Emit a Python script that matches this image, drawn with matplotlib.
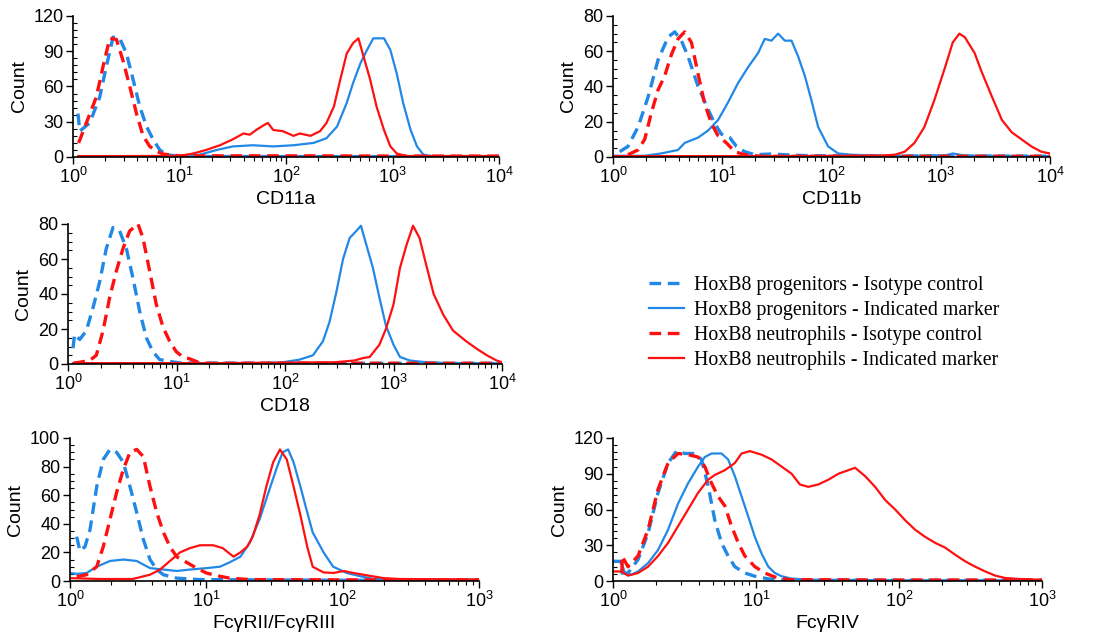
import numpy as np
import matplotlib
matplotlib.use("Agg")
import matplotlib.pyplot as plt
from matplotlib.ticker import AutoMinorLocator, LogLocator, NullFormatter

# ---------------- DATA (x given as log10 of fluorescence) ----------------
# Panel CD11a
cd11a_pi_x = [0.047, 0.063, 0.157, 0.251, 0.313, 0.376, 0.439, 0.502, 0.564, 0.627, 0.690, 0.752, 0.815, 0.878, 1.003, 2.0, 3.0, 4.0]
cd11a_pi_y = [37, 22, 29, 51, 77, 102, 101, 88, 66, 43, 26, 15, 6, 2, 0.5, 0.3, 0.3, 0.3]
cd11a_pm_x = [0.05, 0.5, 1.0, 1.19, 1.35, 1.50, 1.69, 1.88, 2.07, 2.26, 2.38, 2.48, 2.57, 2.63, 2.70, 2.76, 2.82, 2.92, 2.98, 3.04, 3.10, 3.17, 3.23, 3.29, 3.39, 4.0]
cd11a_pm_y = [0.3, 0.3, 0.5, 2, 6, 9, 10, 9, 10, 12, 16, 26, 46, 63, 80, 91, 101, 101, 91, 71, 46, 23, 9, 2, 0.5, 0.3]
cd11a_ni_x = [0.053, 0.125, 0.219, 0.282, 0.345, 0.408, 0.470, 0.533, 0.596, 0.658, 0.721, 0.784, 0.846, 1.0, 2.0, 3.0, 4.0]
cd11a_ni_y = [12, 29, 51, 77, 101, 100, 82, 60, 37, 18, 9, 5, 2.5, 1, 1, 0.8, 0.8]
cd11a_nm_x = [0.05, 0.5, 1.0, 1.13, 1.25, 1.38, 1.50, 1.60, 1.66, 1.72, 1.79, 1.83, 1.88, 1.97, 2.07, 2.13, 2.23, 2.32, 2.38, 2.45, 2.51, 2.57, 2.63, 2.68, 2.73, 2.79, 2.85, 2.92, 2.98, 3.04, 3.13, 4.0]
cd11a_nm_y = [0.8, 0.8, 1, 3, 6, 10, 15, 20, 19, 23, 27, 29, 23, 22, 18, 20, 18, 22, 29, 43, 66, 88, 97, 101, 85, 66, 43, 23, 9, 3, 0.8, 0.8]

# Panel CD11b
cd11b_pi_x = [0.061, 0.137, 0.229, 0.321, 0.412, 0.504, 0.565, 0.626, 0.687, 0.779, 0.870, 0.931, 0.992, 1.069, 1.130, 1.206, 1.298, 1.45, 1.66, 1.82, 3.0, 4.0]
cd11b_pi_y = [3, 6, 17, 34, 55, 68, 71, 66, 57, 40, 27, 19, 13, 11, 6, 3, 1.3, 1.7, 1, 0.7, 0.5, 0.5]
cd11b_pm_x = [0.0, 0.29, 0.44, 0.595, 0.656, 0.779, 0.870, 0.962, 1.053, 1.145, 1.237, 1.328, 1.389, 1.450, 1.511, 1.573, 1.634, 1.695, 1.756, 1.817, 1.878, 1.969, 2.061, 2.18, 2.43, 2.73, 3.05, 3.11, 3.22, 3.65, 4.0]
cd11b_pm_y = [0.7, 0.7, 2, 4, 8, 11, 15, 21, 31, 42, 51, 59, 67, 66, 70, 66, 66, 57, 46, 32, 17, 6, 2, 1.3, 0.7, 0.7, 1, 2, 0.8, 0.6, 0.5]
cd11b_ni_x = [0.137, 0.229, 0.29, 0.351, 0.412, 0.473, 0.534, 0.595, 0.656, 0.718, 0.779, 0.840, 0.901, 0.962, 1.038, 1.115, 1.206, 1.36, 2.5, 4.0]
cd11b_ni_y = [1.3, 4, 10, 25, 38, 46, 58, 67, 71, 65, 47, 30, 19, 12, 8, 3, 1.3, 0.4, 0.4, 0.4]
cd11b_nm_x = [0.0, 1.5, 2.43, 2.58, 2.67, 2.76, 2.85, 2.94, 3.04, 3.11, 3.17, 3.22, 3.31, 3.37, 3.47, 3.56, 3.65, 3.74, 3.83, 3.92, 4.0]
cd11b_nm_y = [0.5, 0.5, 0.7, 1.3, 3, 8, 17, 32, 51, 65, 70, 68, 59, 49, 34, 21, 14, 10, 6, 3, 2]

# Panel CD18
cd18_pi_x = [0.046, 0.061, 0.108, 0.169, 0.23, 0.292, 0.353, 0.415, 0.476, 0.538, 0.599, 0.661, 0.722, 0.783, 0.845, 0.937, 1.03, 2.0, 4.0]
cd18_pi_y = [9, 17, 14, 19, 32, 47, 66, 78, 76, 66, 49, 30, 15, 7, 2.5, 1.5, 0.6, 0.4, 0.4]
cd18_pm_x = [0.05, 1.0, 1.83, 1.98, 2.135, 2.258, 2.35, 2.41, 2.473, 2.535, 2.596, 2.657, 2.70, 2.75, 2.81, 2.87, 2.93, 3.0, 3.06, 3.15, 3.30, 3.52, 4.0]
cd18_pm_y = [0.4, 0.4, 0.6, 1, 2.5, 5, 13, 24, 41, 60, 72, 76, 79, 68, 55, 38, 22, 11, 4, 2, 1, 0.5, 0.4]
cd18_ni_x = [0.05, 0.108, 0.2, 0.261, 0.323, 0.384, 0.445, 0.507, 0.568, 0.645, 0.691, 0.753, 0.814, 0.876, 0.937, 0.998, 1.06, 1.12, 1.18, 1.27, 2.5, 4.0]
cd18_ni_y = [0.5, 1, 2, 5, 19, 38, 53, 66, 76, 80, 72, 53, 34, 21, 13, 7, 4, 3, 1.5, 0.4, 0.4, 0.4]
cd18_nm_x = [0.05, 1.5, 2.46, 2.64, 2.72, 2.78, 2.87, 2.93, 3.0, 3.06, 3.12, 3.18, 3.24, 3.30, 3.37, 3.46, 3.55, 3.67, 3.76, 3.86, 3.95, 4.0]
cd18_nm_y = [0.5, 0.5, 1, 2, 3.4, 4, 11, 20, 34, 55, 68, 79, 72, 57, 40, 28, 19, 13, 9, 5, 2, 1]

# Panel FcγRII/FcγRIII
fc23_pi_x = [0.049, 0.073, 0.11, 0.147, 0.196, 0.244, 0.293, 0.342, 0.391, 0.44, 0.489, 0.538, 0.587, 0.636, 0.685, 0.782, 0.95, 2.0, 3.0]
fc23_pi_y = [31, 21, 24, 36, 66, 85, 92, 90, 83, 66, 48, 29, 15, 8, 4.4, 2, 1, 0.5, 0.5]
fc23_pm_x = [0.0, 0.049, 0.122, 0.196, 0.293, 0.391, 0.489, 0.587, 0.685, 0.782, 0.88, 1.0, 1.1, 1.17, 1.25, 1.32, 1.39, 1.47, 1.52, 1.56, 1.60, 1.64, 1.69, 1.74, 1.78, 1.86, 1.93, 2.03, 2.13, 2.22, 2.37, 3.0]
fc23_pm_y = [5.6, 5, 5.6, 10, 14, 15, 14, 9, 8, 7, 8, 9, 10, 13, 17, 27, 43, 66, 80, 90, 92, 83, 66, 48, 34, 20, 10, 5.6, 3.3, 1.6, 1, 0.8]
fc23_ni_x = [0.049, 0.122, 0.196, 0.244, 0.293, 0.342, 0.391, 0.44, 0.489, 0.538, 0.587, 0.636, 0.685, 0.733, 0.782, 0.856, 0.929, 1.0, 1.1, 1.17, 1.32, 2.0, 3.0]
fc23_ni_y = [3, 4.4, 10, 24, 43, 62, 78, 90, 92, 87, 66, 48, 34, 24, 17, 13, 9, 5.6, 3.3, 2, 1, 0.8, 0.8]
fc23_nm_x = [0.0, 0.22, 0.46, 0.587, 0.66, 0.733, 0.807, 0.88, 0.954, 1.05, 1.12, 1.20, 1.25, 1.30, 1.34, 1.39, 1.44, 1.49, 1.54, 1.59, 1.64, 1.69, 1.74, 1.78, 1.86, 1.93, 2.01, 2.08, 2.15, 2.22, 2.30, 2.42, 3.0]
fc23_nm_y = [2, 1.4, 1.4, 4.4, 8, 14, 20, 23, 25, 25, 23, 17, 20, 24, 31, 46, 66, 83, 92, 85, 66, 46, 24, 10, 6, 5.6, 7, 5.6, 4.4, 3.3, 2, 1.4, 1]

# Panel FcγRIV
fc4_pi_x = [0.0, 0.058, 0.063, 0.105, 0.175, 0.245, 0.315, 0.385, 0.444, 0.502, 0.572, 0.619, 0.665, 0.712, 0.759, 0.805, 0.852, 0.922, 0.992, 1.09, 1.2, 2.0, 3.0]
fc4_pi_y = [16.5, 16.5, 6.7, 6.7, 18, 40, 74, 99, 109, 107, 107, 102, 80, 51, 32, 21, 12, 6.7, 4, 1.7, 0.8, 0.6, 0.6]
fc4_pm_x = [0.0, 0.058, 0.082, 0.128, 0.175, 0.245, 0.315, 0.385, 0.455, 0.525, 0.595, 0.642, 0.689, 0.759, 0.805, 0.852, 0.899, 0.946, 0.992, 1.039, 1.086, 1.132, 1.179, 1.249, 1.389, 2.0, 3.0]
fc4_pm_y = [16.5, 16.5, 6.7, 5.3, 8, 15, 26, 43, 65, 82, 96, 104, 107, 107, 102, 88, 71, 54, 37, 23, 12, 6.7, 4, 2, 1.1, 0.6, 0.6]
fc4_ni_x = [0.063, 0.063, 0.105, 0.175, 0.245, 0.315, 0.385, 0.455, 0.525, 0.595, 0.642, 0.689, 0.735, 0.782, 0.829, 0.876, 0.922, 0.992, 1.062, 1.13, 1.23, 2.0, 3.0]
fc4_ni_y = [8, 21, 12, 21, 43, 77, 99, 107, 106, 104, 96, 82, 71, 63, 46, 32, 21, 12, 6.7, 3.4, 1.1, 0.8, 0.8]
fc4_nm_x = [0.0, 0.058, 0.105, 0.175, 0.245, 0.315, 0.385, 0.455, 0.525, 0.595, 0.665, 0.712, 0.782, 0.852, 0.899, 0.957, 1.039, 1.109, 1.179, 1.249, 1.307, 1.366, 1.436, 1.506, 1.576, 1.646, 1.693, 1.763, 1.833, 1.903, 1.973, 2.043, 2.113, 2.183, 2.253, 2.323, 2.393, 2.463, 2.533, 2.603, 2.673, 2.743, 2.837, 3.0]
fc4_nm_y = [8, 8, 4.5, 6.7, 12, 21, 32, 46, 60, 74, 85, 89, 93, 99, 107, 109, 106, 102, 96, 90, 81, 79, 81, 85, 90, 93, 95, 88, 79, 68, 60, 51, 43, 37, 32, 28, 22, 16.5, 12, 8, 4.5, 2.5, 1.7, 1]

panel_labels = ["CD11a", "CD11b", "CD18", "FcγRII/FcγRIII", "FcγRIV"]
panel_xmax_exp = [4, 4, 4, 3, 3]
panel_ymax = [120, 80, 80, 100, 120]
panel_ystep = [30, 20, 20, 20, 30]
legend_labels = ["HoxB8 progenitors - Isotype control",
                 "HoxB8 progenitors - Indicated marker",
                 "HoxB8 neutrophils - Isotype control",
                 "HoxB8 neutrophils - Indicated marker"]

panel_curves = [
    [(cd11a_pi_x, cd11a_pi_y), (cd11a_pm_x, cd11a_pm_y), (cd11a_ni_x, cd11a_ni_y), (cd11a_nm_x, cd11a_nm_y)],
    [(cd11b_pi_x, cd11b_pi_y), (cd11b_pm_x, cd11b_pm_y), (cd11b_ni_x, cd11b_ni_y), (cd11b_nm_x, cd11b_nm_y)],
    [(cd18_pi_x, cd18_pi_y), (cd18_pm_x, cd18_pm_y), (cd18_ni_x, cd18_ni_y), (cd18_nm_x, cd18_nm_y)],
    [(fc23_pi_x, fc23_pi_y), (fc23_pm_x, fc23_pm_y), (fc23_ni_x, fc23_ni_y), (fc23_nm_x, fc23_nm_y)],
    [(fc4_pi_x, fc4_pi_y), (fc4_pm_x, fc4_pm_y), (fc4_ni_x, fc4_ni_y), (fc4_nm_x, fc4_nm_y)],
]

# ---------------- STYLE ----------------
BLUE = "#2288e6"
RED = "#ff1010"
styles = [
    dict(color=BLUE, lw=2.4, ls=(0, (3.5, 2.0))),
    dict(color=BLUE, lw=1.6, ls="-"),
    dict(color=RED, lw=2.4, ls=(0, (3.5, 2.0))),
    dict(color=RED, lw=1.6, ls="-"),
]

plt.rcParams["font.family"] = ["Liberation Sans", "DejaVu Sans"]

W, H = 1094, 637
fig = plt.figure(figsize=(W / 100, H / 100), dpi=100)

def rect(l, r, t, b):
    return [l / W, 1 - b / H, (r - l) / W, (b - t) / H]

rects = [
    rect(73, 499, 16, 157),
    rect(613, 1050, 16, 157),
    rect(68, 502, 224, 364),
    rect(70, 479, 438, 581),
    rect(613, 1042, 438, 581),
]

handles = None
for i, r in enumerate(rects):
    ax = fig.add_axes(r)
    hs = []
    for (xs, ys), st in zip(panel_curves[i], styles):
        h, = ax.plot(10 ** np.array(xs), ys, **st, solid_joinstyle="round")
        hs.append(h)
    if handles is None:
        handles = hs
    ax.set_xscale("log")
    ax.set_xlim(1, 10 ** panel_xmax_exp[i])
    ax.set_ylim(0, panel_ymax[i])
    ax.set_yticks(np.arange(0, panel_ymax[i] + 1, panel_ystep[i]))
    ax.yaxis.set_minor_locator(AutoMinorLocator(5 if panel_ystep[i] == 30 else 4))
    ax.xaxis.set_major_locator(LogLocator(base=10, numticks=10))
    ax.xaxis.set_minor_locator(LogLocator(base=10, subs=np.arange(2, 10), numticks=50))
    ax.xaxis.set_minor_formatter(NullFormatter())
    for s in ["top", "right"]:
        ax.spines[s].set_visible(False)
    for s in ["left", "bottom"]:
        ax.spines[s].set_linewidth(1.2)
    ax.tick_params(axis="both", which="major", labelsize=13, length=5, width=1.0, pad=2)
    ax.tick_params(axis="y", which="minor", direction="in", length=3, width=0.8)
    ax.tick_params(axis="x", which="minor", direction="out", length=3, width=0.8)
    ax.set_xlabel(panel_labels[i], fontsize=14, labelpad=3)
    ax.set_ylabel("Count", fontsize=14, labelpad=4)

fig.legend(handles, legend_labels, loc="upper left",
           bbox_to_anchor=(649 / W, 1 - 276 / H), frameon=False,
           prop={"family": ["Liberation Serif"], "size": 14.3},
           handlelength=1.75, handletextpad=0.5, labelspacing=0.3,
           borderaxespad=0, borderpad=0)

fig.savefig("out.png", dpi=100)
